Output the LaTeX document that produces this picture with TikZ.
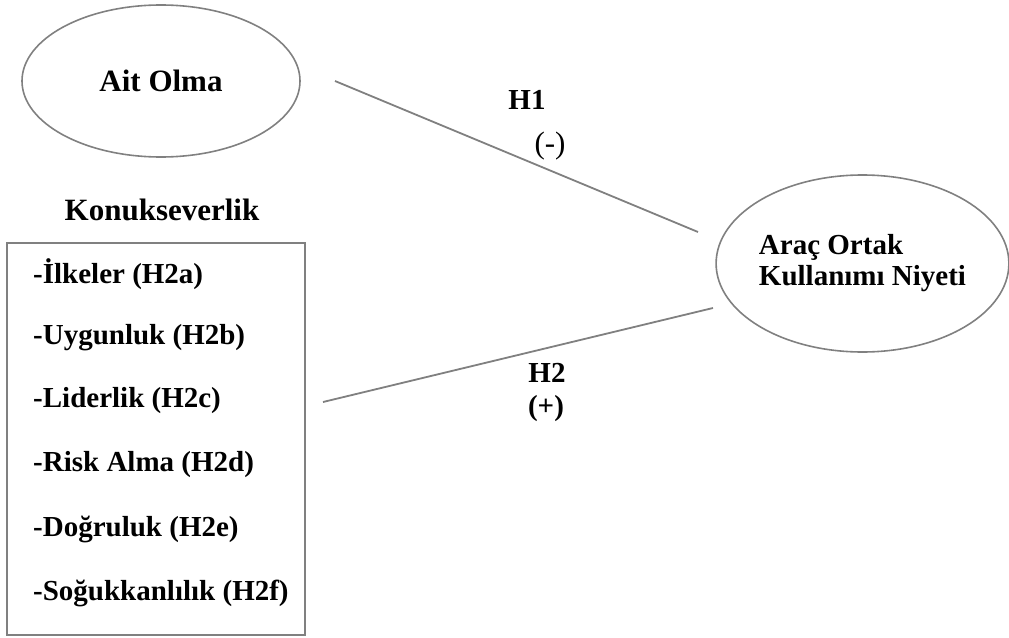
\documentclass[tikz,border=0pt]{standalone}
\usepackage{fontspec}
\setmainfont{Liberation Serif}
\usetikzlibrary{shapes.geometric}
\begin{document}
\begin{tikzpicture}[x=1pt, y=-1pt,
    every node/.style={font=\fontsize{29}{31}\selectfont\bfseries},
    construct/.style={draw=gray, line width=1.6pt, ellipse, inner sep=0pt},
    path/.style={draw=gray, line width=1.8pt},
    item/.style={anchor=west, inner sep=0pt}]
      \useasboundingbox (0,0) rectangle (1009,637);
      % constructs
      \node[construct, minimum width=278, minimum height=152,
            font=\fontsize{31}{31}\selectfont\bfseries] (ait) at (161,81) {Ait Olma};
      \node[construct, minimum width=291, minimum height=177, align=left] (niyet) at (862.5,263.5) {Araç Ortak\\Kullanımı Niyeti};
      % hospitality dimensions
      \node[font=\fontsize{31}{31}\selectfont\bfseries] (konuk) at (162,210) {Konukseverlik};
      \node[draw=gray, line width=1.6pt, minimum width=298, minimum height=392, inner sep=0pt] (box) at (156,439) {};
      \node[item] (h2a) at (33,274) {-İlkeler (H2a)};
      \node[item] (h2b) at (33,338) {-Uygunluk (H2b)};
      \node[item] (h2c) at (33,401) {-Liderlik (H2c)};
      \node[item] (h2d) at (33,465) {-Risk Alma (H2d)};
      \node[item] (h2e) at (33,529) {-Doğruluk (H2e)};
      \node[item] (h2f) at (33,593) {-Soğukkanlılık (H2f)};
      % paths
      \coordinate (h1from) at (335,81);
      \coordinate (h1to) at (698,232);
      \coordinate (h2from) at (323,402);
      \coordinate (h2to) at (713,308);
      \draw[path] (h1from) -- (h1to);
      \draw[path] (h2from) -- (h2to);
      \node (h1) at (527,100) {H1};
      \node[font=\fontsize{31}{31}\selectfont] (h1sign) at (550,146) {(-)};
      \node (h2) at (547,373) {H2};
      \node (h2sign) at (546,409) {(+)};
    \end{tikzpicture}
\end{document}
